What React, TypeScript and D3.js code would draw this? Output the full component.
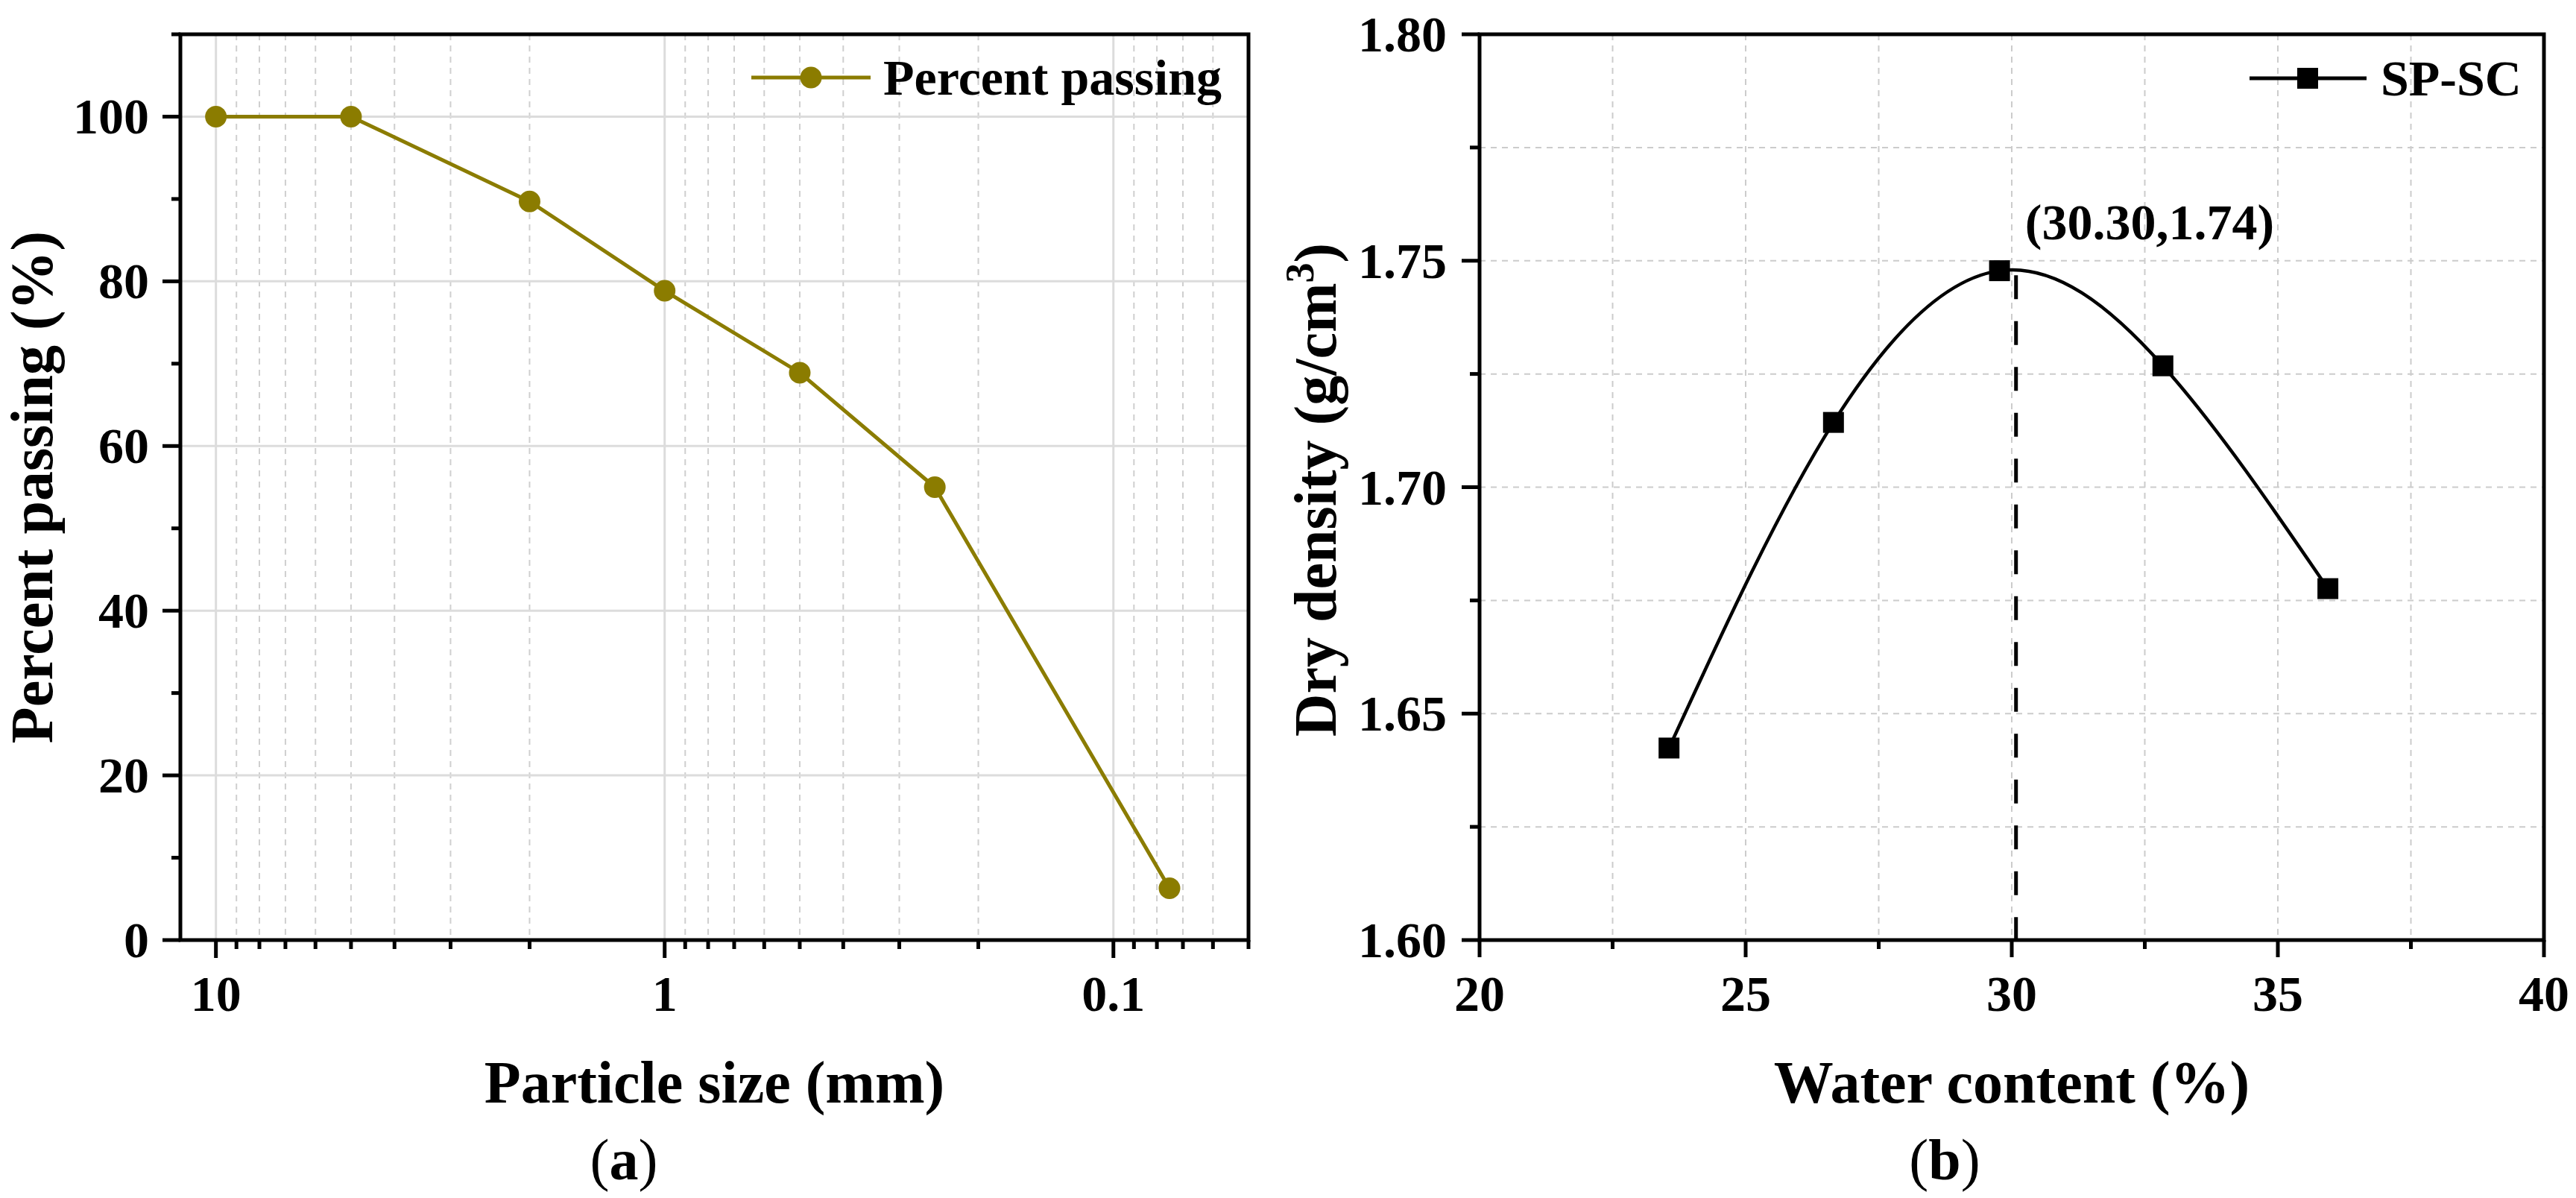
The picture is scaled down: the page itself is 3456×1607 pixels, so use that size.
import React from "react";
import * as d3 from "d3";

// (a) sieve analysis
const sieveSizes = [10, 5, 2, 1, 0.5, 0.25, 0.075];
const percentPassing = [100, 100, 89.7, 78.85, 68.9, 55.0, 6.3];
const sizeMajorTicks = [10, 1, 0.1];
const passingTicks = [0, 20, 40, 60, 80, 100];
const passingMinorTicks = [10, 30, 50, 70, 90, 110];

// (b) compaction curve
const waterContent = [23.56, 26.65, 29.77, 32.84, 35.94];
const dryDensity = [1.6424, 1.7143, 1.7478, 1.7268, 1.6776];
const waterTicks = [20, 25, 30, 35, 40];
const waterMinorTicks = [22.5, 27.5, 32.5, 37.5];
const densityTicks = [1.6, 1.65, 1.7, 1.75, 1.8];
const densityMinorTicks = [1.625, 1.675, 1.725, 1.775];
const optimum = { water: 30.08, density: 1.7468 };
const optimumLabel = "(30.30,1.74)";
const optimumLabelAt = { water: 30.25, density: 1.7547 };

const W = 3456;
const H = 1607;
const FONT = "'Liberation Serif', 'Times New Roman', serif";
const OLIVE = "#8b7c00";
const TICK_FS = 68;
const TITLE_FS = 80;

const boxA = { left: 242, right: 1675, top: 46, bottom: 1261 };
const boxB = { left: 1985, right: 3413, top: 46, bottom: 1261 };

const App: React.FC = () => {
  // scales
  const xA = d3.scaleLog().domain([12, 0.05]).range([boxA.left, boxA.right]);
  const yA = d3.scaleLinear().domain([0, 110]).range([boxA.bottom, boxA.top]);
  const xB = d3.scaleLinear().domain([20, 40]).range([boxB.left, boxB.right]);
  const yB = d3.scaleLinear().domain([1.6, 1.8]).range([boxB.bottom, boxB.top]);

  // log minor ticks 2..9 per decade inside domain
  const sizeMinorTicks: number[] = [];
  [0.01, 0.1, 1].forEach((dec) => {
    for (let k = 2; k <= 9; k++) {
      const v = +(k * dec).toFixed(4);
      if (v <= 12 && v >= 0.05) sizeMinorTicks.push(v);
    }
  });

  const lineA = d3
    .line<number>()
    .x((d, i) => xA(sieveSizes[i]))
    .y((d) => yA(d));

  const lineB = d3
    .line<number>()
    .x((d, i) => xB(waterContent[i]))
    .y((d) => yB(d))
    .curve(d3.curveNatural);

  const txt = {
    fontFamily: FONT,
    fontWeight: "bold" as const,
    fill: "#000",
  };

  return (
    <svg
      width={W}
      height={H}
      style={{ position: "absolute", left: 0, top: 0, background: "#fff" }}
    >
      <rect width={W} height={H} fill="#fff" />

      {/* ---------- panel (a) ---------- */}
      <g>
        {/* minor vertical grid, dashed */}
        {sizeMinorTicks.map((v) => (
          <line
            key={"amg" + v}
            x1={xA(v)}
            x2={xA(v)}
            y1={boxA.top}
            y2={boxA.bottom}
            stroke="#cfcfcf"
            strokeWidth={2}
            strokeDasharray="8 7"
          />
        ))}
        {/* major grid, solid */}
        {sizeMajorTicks.map((v) => (
          <line
            key={"ag" + v}
            x1={xA(v)}
            x2={xA(v)}
            y1={boxA.top}
            y2={boxA.bottom}
            stroke="#dcdcdc"
            strokeWidth={3}
          />
        ))}
        {passingTicks
          .filter((v) => v > 0)
          .map((v) => (
            <line
              key={"agy" + v}
              x1={boxA.left}
              x2={boxA.right}
              y1={yA(v)}
              y2={yA(v)}
              stroke="#dcdcdc"
              strokeWidth={3}
            />
          ))}

        <path d={lineA(percentPassing) || ""} fill="none" stroke={OLIVE} strokeWidth={5} />
        {percentPassing.map((v, i) => (
          <circle key={"ap" + i} cx={xA(sieveSizes[i])} cy={yA(v)} r={14.5} fill={OLIVE} />
        ))}

        <rect
          x={boxA.left}
          y={boxA.top}
          width={boxA.right - boxA.left}
          height={boxA.bottom - boxA.top}
          fill="none"
          stroke="#000"
          strokeWidth={5}
        />

        {/* x ticks */}
        {sizeMajorTicks.map((v) => (
          <g key={"axt" + v}>
            <line x1={xA(v)} x2={xA(v)} y1={boxA.bottom} y2={boxA.bottom + 24} stroke="#000" strokeWidth={5} />
            <text x={xA(v)} y={1356} textAnchor="middle" fontSize={TICK_FS} style={txt}>
              {String(v)}
            </text>
          </g>
        ))}
        {sizeMinorTicks.map((v) => (
          <line key={"axm" + v} x1={xA(v)} x2={xA(v)} y1={boxA.bottom} y2={boxA.bottom + 12} stroke="#000" strokeWidth={5} />
        ))}

        {/* y ticks */}
        {passingTicks.map((v) => (
          <g key={"ayt" + v}>
            <line x1={boxA.left - 24} x2={boxA.left} y1={yA(v)} y2={yA(v)} stroke="#000" strokeWidth={5} />
            <text x={boxA.left - 42} y={yA(v) + 23} textAnchor="end" fontSize={TICK_FS} style={txt}>
              {String(v)}
            </text>
          </g>
        ))}
        {passingMinorTicks.map((v) => (
          <line key={"aym" + v} x1={boxA.left - 12} x2={boxA.left} y1={yA(v)} y2={yA(v)} stroke="#000" strokeWidth={5} />
        ))}

        {/* titles */}
        <text x={(boxA.left + boxA.right) / 2} y={1479} textAnchor="middle" fontSize={TITLE_FS} style={txt}>
          Particle size (mm)
        </text>
        <text
          transform={`translate(70, ${(boxA.top + boxA.bottom) / 2}) rotate(-90)`}
          textAnchor="middle"
          fontSize={TITLE_FS}
          style={txt}
        >
          Percent passing (%)
        </text>

        {/* legend */}
        <line x1={1008} x2={1168} y1={104} y2={104} stroke={OLIVE} strokeWidth={5} />
        <circle cx={1088} cy={104} r={14.5} fill={OLIVE} />
        <text x={1185} y={127} fontSize={TICK_FS} style={txt}>
          Percent passing
        </text>

        <text x={837} y={1582} textAnchor="middle" fontSize={78} fontFamily={FONT}>
          (<tspan fontWeight="bold">a</tspan>)
        </text>
      </g>

      {/* ---------- panel (b) ---------- */}
      <g>
        {[...waterTicks, ...waterMinorTicks]
          .filter((v) => v > 20 && v < 40)
          .map((v) => (
            <line
              key={"bgx" + v}
              x1={xB(v)}
              x2={xB(v)}
              y1={boxB.top}
              y2={boxB.bottom}
              stroke="#cccccc"
              strokeWidth={2}
              strokeDasharray="8 7"
            />
          ))}
        {[...densityTicks, ...densityMinorTicks]
          .filter((v) => v > 1.6001 && v < 1.7999)
          .map((v) => (
            <line
              key={"bgy" + v}
              x1={boxB.left}
              x2={boxB.right}
              y1={yB(v)}
              y2={yB(v)}
              stroke="#cccccc"
              strokeWidth={2}
              strokeDasharray="8 7"
            />
          ))}

        {/* optimum marker line */}
        <line
          x1={xB(optimum.water)}
          x2={xB(optimum.water)}
          y1={yB(optimum.density)}
          y2={yB(1.6)}
          stroke="#000"
          strokeWidth={5}
          strokeDasharray="32 29.5"
        />

        <path d={lineB(dryDensity) || ""} fill="none" stroke="#000" strokeWidth={4.5} />
        {dryDensity.map((v, i) => (
          <rect
            key={"bp" + i}
            x={xB(waterContent[i]) - 14}
            y={yB(v) - 14}
            width={28}
            height={28}
            fill="#000"
          />
        ))}

        <rect
          x={boxB.left}
          y={boxB.top}
          width={boxB.right - boxB.left}
          height={boxB.bottom - boxB.top}
          fill="none"
          stroke="#000"
          strokeWidth={5}
        />

        {waterTicks.map((v) => (
          <g key={"bxt" + v}>
            <line x1={xB(v)} x2={xB(v)} y1={boxB.bottom} y2={boxB.bottom + 23} stroke="#000" strokeWidth={5} />
            <text x={xB(v)} y={1356} textAnchor="middle" fontSize={TICK_FS} style={txt}>
              {String(v)}
            </text>
          </g>
        ))}
        {waterMinorTicks.map((v) => (
          <line key={"bxm" + v} x1={xB(v)} x2={xB(v)} y1={boxB.bottom} y2={boxB.bottom + 12} stroke="#000" strokeWidth={5} />
        ))}
        {densityTicks.map((v) => (
          <g key={"byt" + v}>
            <line x1={boxB.left - 24} x2={boxB.left} y1={yB(v)} y2={yB(v)} stroke="#000" strokeWidth={5} />
            <text x={boxB.left - 44} y={yB(v) + 23} textAnchor="end" fontSize={TICK_FS} style={txt}>
              {d3.format(".2f")(v)}
            </text>
          </g>
        ))}
        {densityMinorTicks.map((v) => (
          <line key={"bym" + v} x1={boxB.left - 13} x2={boxB.left} y1={yB(v)} y2={yB(v)} stroke="#000" strokeWidth={5} />
        ))}

        <text
          x={xB(optimumLabelAt.water)}
          y={yB(optimumLabelAt.density)}
          fontSize={TICK_FS}
          style={txt}
        >
          {optimumLabel}
        </text>

        <text x={(boxB.left + boxB.right) / 2} y={1479} textAnchor="middle" fontSize={TITLE_FS} style={txt}>
          Water content (%)
        </text>
        <text
          transform={`translate(1792, 657) rotate(-90)`}
          textAnchor="middle"
          fontSize={TITLE_FS}
          style={txt}
        >
          Dry density (g/cm
          <tspan fontSize={54} dy={-30}>
            3
          </tspan>
          <tspan dy={30}>)</tspan>
        </text>

        {/* legend */}
        <line x1={3018} x2={3175} y1={105} y2={105} stroke="#000" strokeWidth={5} />
        <rect x={3082} y={91} width={28} height={28} fill="#000" />
        <text x={3194} y={128} fontSize={TICK_FS} style={txt}>
          SP-SC
        </text>

        <text x={2609} y={1582} textAnchor="middle" fontSize={78} fontFamily={FONT}>
          (<tspan fontWeight="bold">b</tspan>)
        </text>
      </g>
    </svg>
  );
};

export default App;
